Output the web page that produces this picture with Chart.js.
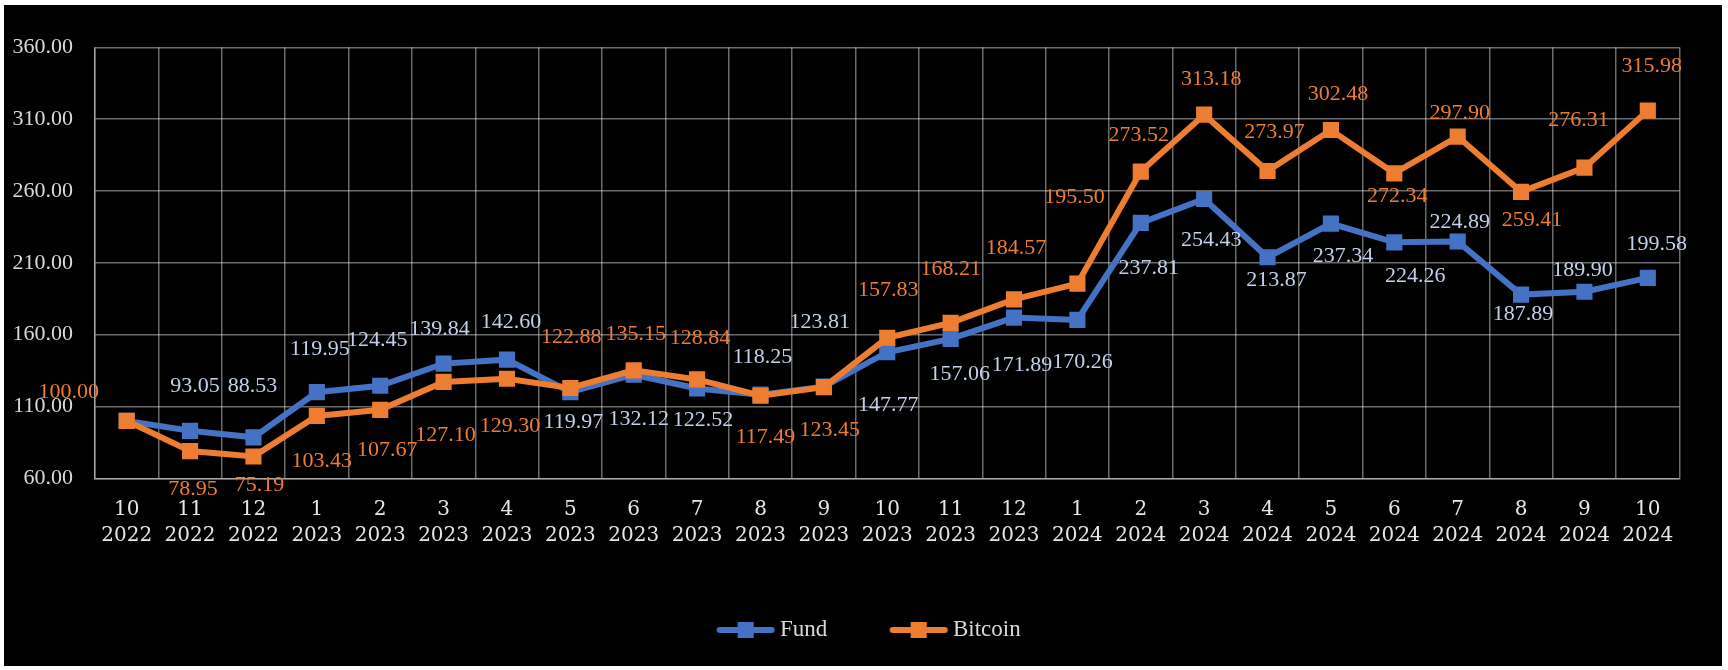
<!DOCTYPE html>
<html>
<head>
<meta charset="utf-8">
<script src="https://cdn.jsdelivr.net/npm/chart.js@4/dist/chart.umd.min.js"></script>
<style>
  html, body { margin: 0; padding: 0; background: #fff; }
  #bg { position: absolute; left: 4px; top: 5px; width: 1718px; height: 661px; background: #000; }
  #wrap { position: absolute; left: 0; top: 0; width: 1728px; height: 670px; }
</style>
</head>
<body>
<div id="bg"></div>
<div id="wrap"><canvas id="lineChart"></canvas></div>
<script>
// data
var months = ['10', '11', '12', '1', '2', '3', '4', '5', '6', '7', '8', '9',
  '10', '11', '12', '1', '2', '3', '4', '5', '6', '7', '8', '9', '10'];
var years = ['2022', '2022', '2022', '2023', '2023', '2023', '2023', '2023', '2023', '2023', '2023', '2023',
  '2023', '2023', '2023', '2024', '2024', '2024', '2024', '2024', '2024', '2024', '2024', '2024', '2024'];
var fund = [100.00, 93.05, 88.53, 119.95, 124.45, 139.84, 142.60, 119.97, 132.12, 122.52, 118.25, 123.81,
  147.77, 157.06, 171.89, 170.26, 237.81, 254.43, 213.87, 237.34, 224.26, 224.89, 187.89, 189.90, 199.58];
var bitcoin = [100.00, 78.95, 75.19, 103.43, 107.67, 127.10, 129.30, 122.88, 135.15, 128.84, 117.49, 123.45,
  157.83, 168.21, 184.57, 195.50, 273.52, 313.18, 273.97, 302.48, 272.34, 297.90, 259.41, 276.31, 315.98];
var yTicks = [60, 110, 160, 210, 260, 310, 360];

// where each value label sits relative to its marker (dx, dy)
var fundLabelPos = [null, [5, -45], [-1, -51], [3, -43], [-3, -46], [-4, -34], [4, -37], [3, 30], [5, 45],
  [6, 32], [2, -37], [-4, -64], [1, 53], [9, 35], [8, 48], [5, 42], [8, 45], [7, 41], [9, 23], [12, 33],
  [21, 34], [2, -19], [2, 20], [-2, -22], [9, -34]];
var btcLabelPos = [[-58, -29], [3, 38], [6, 29], [5, 45], [7, 40], [2, 53], [3, 47], [1, -51], [2, -36],
  [3, -41], [5, 41], [6, 43], [1, -48], [0, -54], [2, -51], [-3, -86], [-2, -36], [7, -35], [7, -39],
  [7, -36], [3, 23], [2, -23], [11, 28], [-6, -47], [4, -44]];

var blue = '#4472c4';
var orange = '#ed7d31';
var gridColor = 'rgba(255,255,255,0.42)';
var labels = months.map(function(m, i) { return [m, years[i]]; });

function makeIcon(color) {
  var c = document.createElement('canvas');
  c.width = 124;
  c.height = 20;
  var g = c.getContext('2d');
  var cx = 62 + 32;
  g.strokeStyle = color;
  g.lineWidth = 6;
  g.lineCap = 'round';
  g.beginPath();
  g.moveTo(cx - 26, 10);
  g.lineTo(cx + 26, 10);
  g.stroke();
  g.fillStyle = color;
  g.fillRect(cx - 8, 2, 16, 16);
  return c;
}
var legendIcons = [makeIcon(blue), makeIcon(orange)];

var valueLabels = {
  id: 'valueLabels',
  afterDatasetsDraw: function(chart) {
    var ctx = chart.ctx;
    var sets = [
      { idx: 0, pos: fundLabelPos, color: '#c3d0ea' },
      { idx: 1, pos: btcLabelPos, color: orange }
    ];
    ctx.save();
    ctx.font = '22px "Liberation Serif"';
    ctx.textAlign = 'center';
    ctx.textBaseline = 'middle';
    sets.forEach(function(s) {
      var meta = chart.getDatasetMeta(s.idx);
      var values = chart.data.datasets[s.idx].data;
      ctx.fillStyle = s.color;
      meta.data.forEach(function(pt, i) {
        var p = s.pos[i];
        if (!p) return;
        ctx.fillText(values[i].toFixed(2), pt.x + p[0], pt.y + p[1]);
      });
    });
    ctx.restore();
  }
};

function BuildLineChart() {
  var ctx = document.getElementById('lineChart');
  var lineChart = new Chart(ctx, {
    type: 'line',
    data: {
      labels: labels,
      datasets: [{
        label: 'Fund',
        data: fund,
        borderColor: blue,
        backgroundColor: blue,
        borderWidth: 6,
        pointStyle: 'rect',
        pointRadius: 10,
        pointBorderWidth: 2,
        pointBorderColor: blue,
        pointBackgroundColor: blue,
        tension: 0,
        order: 1
      }, {
        label: 'Bitcoin',
        data: bitcoin,
        borderColor: orange,
        backgroundColor: orange,
        borderWidth: 6,
        pointStyle: 'rect',
        pointRadius: 10,
        pointBorderWidth: 2,
        pointBorderColor: orange,
        pointBackgroundColor: orange,
        tension: 0,
        order: 0
      }]
    },
    options: {
      responsive: true,
      maintainAspectRatio: false,
      animation: false,
      layout: {
        padding: { top: 47.4, left: 0, right: 48.5, bottom: 18.5 }
      },
      plugins: {
        tooltip: { enabled: false },
        legend: {
          position: 'bottom',
          labels: {
            usePointStyle: true,
            pointStyleWidth: 109.7,
            padding: 4.5,
            color: '#d9d9d9',
            font: { family: 'Liberation Serif', size: 23 },
            sort: function(a, b) { return a.datasetIndex - b.datasetIndex; },
            generateLabels: function(chart) {
              var items = Chart.defaults.plugins.legend.labels.generateLabels(chart);
              items.forEach(function(it) { it.pointStyle = legendIcons[it.datasetIndex]; });
              return items;
            }
          }
        }
      },
      scales: {
        x: {
          offset: true,
          grid: { offset: true, color: gridColor, lineWidth: 1.5, drawTicks: false },
          border: { color: gridColor, width: 1.5 },
          ticks: {
            color: '#e6e6e6',
            padding: 18,
            maxRotation: 0,
            autoSkip: false,
            font: { family: 'DejaVu Serif', size: 20, lineHeight: 1.33 }
          },
          afterFit: function(scale) { scale.height = 135.7; }
        },
        y: {
          min: yTicks[0],
          max: yTicks[yTicks.length - 1],
          afterBuildTicks: function(scale) {
            scale.ticks = yTicks.map(function(v) { return { value: v }; });
          },
          grid: { color: gridColor, lineWidth: 1.5, drawTicks: false },
          border: { color: gridColor, width: 1.5 },
          ticks: {
            color: '#d9d9d9',
            padding: 22,
            font: { family: 'Liberation Serif', size: 22 },
            callback: function(v) { return Number(v).toFixed(2); }
          },
          afterFit: function(scale) { scale.width = 95; }
        }
      }
    },
    plugins: [valueLabels]
  });
}

BuildLineChart();
</script>
</body>
</html>
